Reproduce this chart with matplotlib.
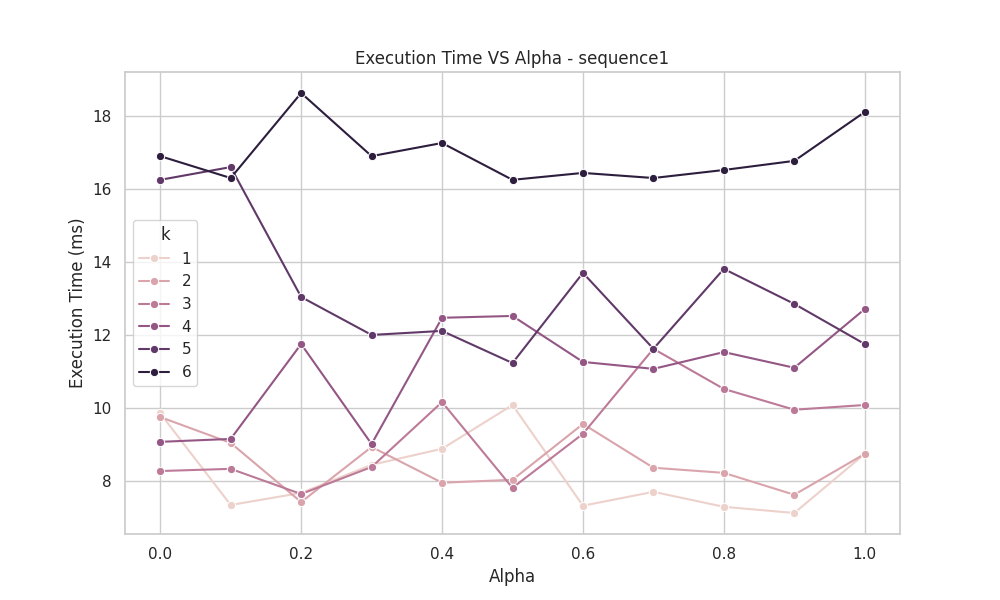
import numpy as np
import pandas as pd
import matplotlib
matplotlib.use("Agg")
import matplotlib.pyplot as plt
import seaborn as sns

alphas = [0.0, 0.1, 0.2, 0.3, 0.4, 0.5, 0.6, 0.7, 0.8, 0.9, 1.0]
times = {
    1: [9.85, 7.34, 7.67, 8.44, 8.88, 10.08, 7.32, 7.70, 7.29, 7.12, 8.74],
    2: [9.75, 9.04, 7.42, 8.93, 7.95, 8.03, 9.56, 8.36, 8.22, 7.62, 8.74],
    3: [8.27, 8.33, 7.64, 8.38, 10.16, 7.81, 9.29, 11.62, 10.52, 9.95, 10.08],
    4: [9.07, 9.15, 11.75, 9.01, 12.47, 12.52, 11.26, 11.07, 11.53, 11.10, 12.71],
    5: [16.25, 16.60, 13.04, 12.00, 12.11, 11.23, 13.70, 11.62, 13.81, 12.85, 11.75],
    6: [16.90, 16.30, 18.63, 16.90, 17.26, 16.25, 16.44, 16.30, 16.52, 16.77, 18.11],
}

rows = []
for k, vals in times.items():
    for a, t in zip(alphas, vals):
        rows.append({"Alpha": a, "Execution Time (ms)": t, "k": k})
df = pd.DataFrame(rows)

sns.set_theme(style="whitegrid")
fig, ax = plt.subplots(figsize=(10, 6), dpi=100)
sns.lineplot(data=df, x="Alpha", y="Execution Time (ms)", hue="k", marker="o", ax=ax)
ax.set_title("Execution Time VS Alpha - sequence1")
ax.legend(title="k", loc="center left")
fig.savefig("out.png")
